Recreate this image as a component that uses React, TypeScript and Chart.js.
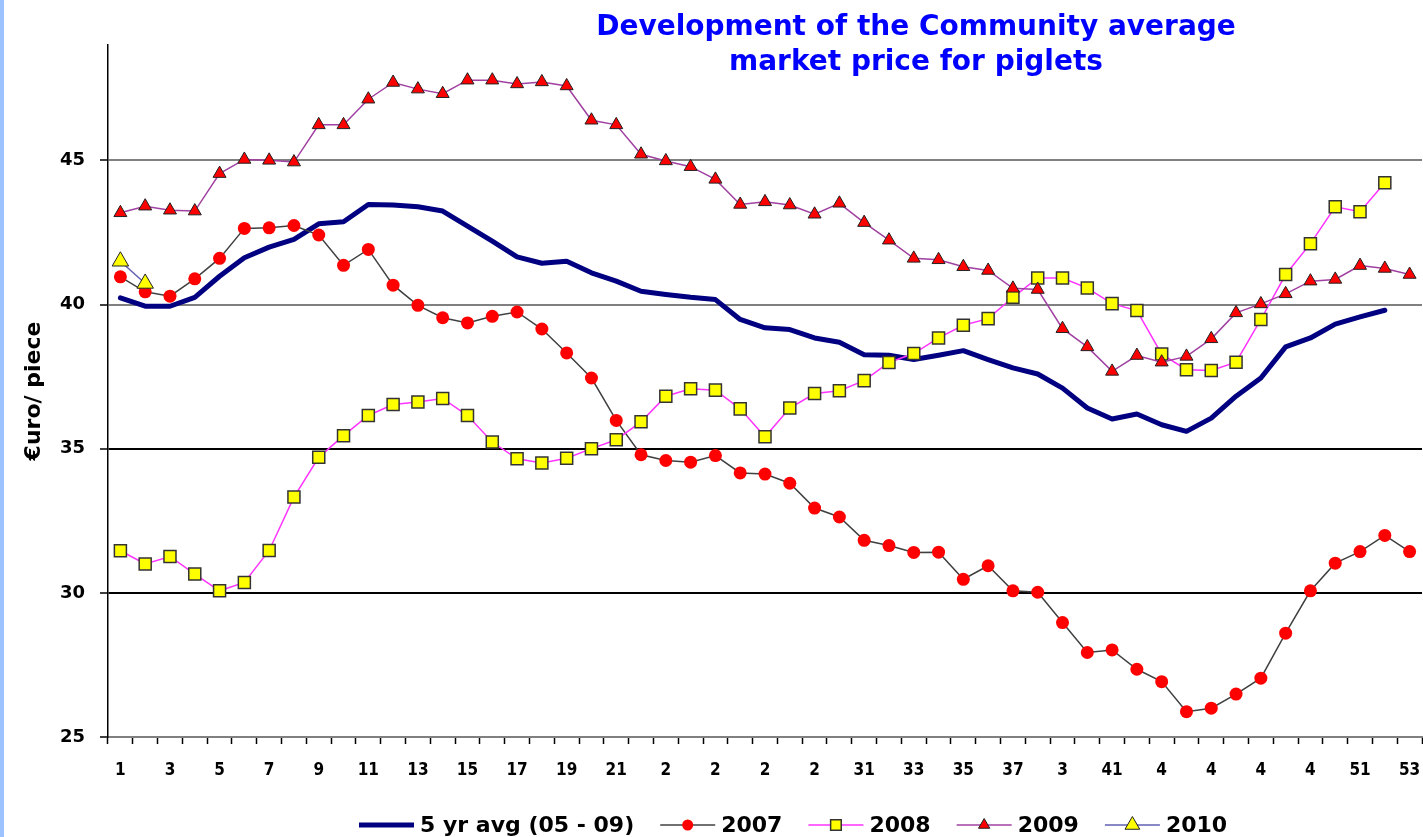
import React, { useEffect, useRef } from 'react';
import { Chart, registerables } from 'chart.js';

Chart.register(...registerables);

// ---------- data ----------
const weeks = [
  '1','2','3','4','5','6','7','8','9','10','11','12','13','14','15','16','17','18','19','20',
  '21','22','23','24','25','26','27','28','29','30','31','32','33','34','35','36','37','38','39','40',
  '41','42','43','44','45','46','47','48','49','50','51','52','53'
];

const tickLabels = [
  '1','','3','','5','','7','','9','','11','','13','','15','','17','','19','','21','',
  '2','','2','','2','','2','','31','','33','','35','','37','','3','','41','',
  '4','','4','','4','','4','','51','','53'
];

const avg5yr = [
  40.23, 39.94, 39.94, 40.25, 40.98, 41.62, 41.99, 42.26, 42.80, 42.87,
  43.47, 43.45, 43.39, 43.24, 42.72, 42.20, 41.65, 41.43, 41.50, 41.10,
  40.81, 40.46, 40.35, 40.25, 40.17, 39.48, 39.19, 39.13, 38.84, 38.69,
  38.26, 38.24, 38.09, 38.24, 38.40, 38.09, 37.80, 37.59, 37.10, 36.41,
  36.03, 36.20, 35.83, 35.60, 36.06, 36.82, 37.45, 38.53, 38.84, 39.32,
  39.57, 39.80, null
];

const y2007 = [
  40.96, 40.44, 40.29, 40.89, 41.60, 42.64, 42.66, 42.74, 42.41, 41.36,
  41.91, 40.67, 39.97, 39.54, 39.36, 39.59, 39.74, 39.15, 38.32, 37.45,
  35.98, 34.79, 34.59, 34.53, 34.76, 34.16, 34.12, 33.80, 32.94, 32.63,
  31.82, 31.64, 31.40, 31.41, 30.47, 30.94, 30.07, 30.02, 28.97, 27.93,
  28.02, 27.35, 26.92, 25.88, 26.00, 26.49, 27.04, 28.60, 30.07, 31.03,
  31.43, 31.99, 31.43
];

const y2008 = [
  31.46, 31.00, 31.26, 30.65, 30.07, 30.36, 31.47, 33.32, 34.70, 35.45,
  36.15, 36.53, 36.62, 36.74, 36.15, 35.23, 34.65, 34.50, 34.67, 35.00,
  35.31, 35.93, 36.82, 37.08, 37.03, 36.38, 35.41, 36.41, 36.91, 37.01,
  37.36, 37.99, 38.30, 38.84, 39.28, 39.51, 40.25, 40.92, 40.92, 40.57,
  40.03, 39.79, 38.28, 37.74, 37.71, 38.00, 39.48, 41.04, 42.11, 43.39,
  43.22, 44.22, null
];

const y2009 = [
  43.18, 43.41, 43.27, 43.24, 44.54, 45.03, 45.00, 44.94, 46.23, 46.23,
  47.12, 47.70, 47.47, 47.31, 47.78, 47.78, 47.65, 47.72, 47.58, 46.39,
  46.23, 45.21, 44.98, 44.78, 44.34, 43.47, 43.56, 43.45, 43.13, 43.51,
  42.84, 42.23, 41.60, 41.55, 41.31, 41.18, 40.56, 40.52, 39.16, 38.53,
  37.68, 38.23, 38.00, 38.20, 38.81, 39.71, 40.02, 40.37, 40.81, 40.87,
  41.35, 41.25, 41.04
];

const y2010 = [41.50, 40.73];

const seriesLabels = ['5 yr avg (05 - 09)', '2007', '2008', '2009', '2010'];
const titleLines = ['Development of the Community average', 'market price for piglets'];
const yAxisTitle = '€uro/ piece';
const yTickValues = [25, 30, 35, 40, 45];

// ---------- helpers ----------
function drawMarker(ctx: CanvasRenderingContext2D, style: string, x: number, y: number, r: number, fill: string, stroke: string, bw: number) {
  ctx.beginPath();
  if (style === 'circle') {
    ctx.arc(x, y, r, 0, Math.PI * 2);
  } else if (style === 'rect') {
    const s = r * Math.SQRT1_2;
    ctx.rect(x - s, y - s, 2 * s, 2 * s);
  } else if (style === 'triangle') {
    ctx.moveTo(x, y - r);
    ctx.lineTo(x + r * Math.sin(Math.PI * 2 / 3), y - r * Math.cos(Math.PI * 2 / 3));
    ctx.lineTo(x + r * Math.sin(Math.PI * 4 / 3), y - r * Math.cos(Math.PI * 4 / 3));
    ctx.closePath();
  }
  ctx.fillStyle = fill;
  ctx.fill();
  if (bw > 0) {
    ctx.lineWidth = bw;
    ctx.strokeStyle = stroke;
    ctx.stroke();
  }
}

const titlePlugin = {
  id: 'pigletTitle',
  afterDraw(chart: any) {
    const ctx = chart.ctx as CanvasRenderingContext2D;
    ctx.save();
    ctx.fillStyle = '#0000FF';
    ctx.font = 'bold 28px "DejaVu Sans", sans-serif';
    ctx.textAlign = 'center';
    ctx.textBaseline = 'alphabetic';
    titleLines.forEach((t, i) => ctx.fillText(t, 916, 35 + i * 35));
    ctx.restore();
  },
};

const legendPlugin = {
  id: 'pigletLegend',
  afterDraw(chart: any) {
    const ctx = chart.ctx as CanvasRenderingContext2D;
    const legendMarkerR = [0, 5.5, 7.5, 6.5, 8.5];
    ctx.save();
    ctx.font = 'bold 22px "DejaVu Sans", sans-serif';
    ctx.textBaseline = 'middle';
    ctx.textAlign = 'left';
    let x = 359;
    const y = 825;
    chart.data.datasets.forEach((ds: any, i: number) => {
      ctx.beginPath();
      ctx.strokeStyle = ds.borderColor;
      ctx.lineWidth = ds.borderWidth;
      ctx.lineCap = 'butt';
      ctx.moveTo(x, y);
      ctx.lineTo(x + 55, y);
      ctx.stroke();
      if (ds.pointRadius > 0) {
        drawMarker(ctx, ds.pointStyle, x + 27.5, y, legendMarkerR[i], ds.pointBackgroundColor, ds.pointBorderColor, ds.pointBorderWidth);
      }
      ctx.fillStyle = '#000000';
      ctx.fillText(ds.label, x + 61, y + 1);
      x += 61 + ctx.measureText(ds.label).width + 26;
    });
    ctx.restore();
  },
};

export default function App() {
  const canvasRef = useRef<HTMLCanvasElement | null>(null);

  useEffect(() => {
    document.body.style.margin = '0';
    const canvas = canvasRef.current;
    if (!canvas) return;

    const chart = new Chart(canvas, {
      type: 'line',
      data: {
        labels: weeks,
        datasets: [
          {
            label: seriesLabels[0],
            data: avg5yr,
            borderColor: '#000080',
            borderWidth: 5,
            pointRadius: 0,
            pointHoverRadius: 0,
            borderJoinStyle: 'round',
            borderCapStyle: 'round',
            order: 5,
          },
          {
            label: seriesLabels[1],
            data: y2007,
            borderColor: '#404040',
            borderWidth: 1.5,
            pointStyle: 'circle',
            pointRadius: 6.5,
            pointHoverRadius: 6.5,
            pointBackgroundColor: '#FF0000',
            pointBorderColor: '#FF0000',
            pointBorderWidth: 0,
            order: 4,
          },
          {
            label: seriesLabels[2],
            data: y2008,
            borderColor: '#FF33FF',
            borderWidth: 1.5,
            pointStyle: 'rect',
            pointRadius: 8.5,
            pointHoverRadius: 8.5,
            pointBackgroundColor: '#FFFF00',
            pointBorderColor: '#333333',
            pointBorderWidth: 1.5,
            order: 3,
          },
          {
            label: seriesLabels[3],
            data: y2009,
            borderColor: '#A040A0',
            borderWidth: 1.5,
            pointStyle: 'triangle',
            pointRadius: 7.5,
            pointHoverRadius: 7.5,
            pointBackgroundColor: '#FF0000',
            pointBorderColor: '#222222',
            pointBorderWidth: 1,
            order: 2,
          },
          {
            label: seriesLabels[4],
            data: y2010,
            borderColor: '#6060B0',
            borderWidth: 1.5,
            pointStyle: 'triangle',
            pointRadius: 9.5,
            pointHoverRadius: 9.5,
            pointBackgroundColor: '#FFFF00',
            pointBorderColor: '#222222',
            pointBorderWidth: 1,
            order: 1,
          },
        ],
      },
      options: {
        animation: false,
        responsive: true,
        maintainAspectRatio: false,
        events: [],
        layout: { autoPadding: false, padding: { left: 8, right: 1, top: 45, bottom: 0 } },
        plugins: {
          legend: { display: false },
          title: { display: false },
          tooltip: { enabled: false },
        },
        elements: { line: { tension: 0 } },
        scales: {
          x: {
            type: 'category',
            offset: true,
            grid: {
              offset: true,
              drawOnChartArea: false,
              drawTicks: true,
              tickLength: 7,
              tickColor: '#000000',
              tickWidth: 1.5,
            },
            border: { display: true, color: '#808080', width: 2 },
            ticks: {
              autoSkip: false,
              maxRotation: 0,
              minRotation: 0,
              padding: 16,
              color: '#000000',
              font: { family: '"DejaVu Sans Condensed", "DejaVu Sans", sans-serif', size: 17, weight: 'bold' },
              callback: (_v: any, i: number) => tickLabels[i],
            },
            afterFit: (scale: any) => {
              scale.height = 100;
              scale.paddingLeft = 0;
              scale.paddingRight = 0;
            },
          },
          y: {
            min: 25,
            max: 49,
            afterBuildTicks: (scale: any) => {
              scale.ticks = yTickValues.map((v) => ({ value: v }));
            },
            grid: {
              color: (c: any) => {
                const v = c.tick ? c.tick.value : 0;
                return v === 30 || v === 35 ? '#000000' : '#808080';
              },
              lineWidth: 2,
              tickLength: 8,
              tickColor: '#000000',
              tickWidth: 1.5,
            },
            border: { display: true, color: '#000000', width: 1.5 },
            ticks: {
              padding: 15,
              color: '#000000',
              font: { family: '"DejaVu Sans", sans-serif', size: 18, weight: 'bold' },
            },
            title: {
              display: true,
              text: yAxisTitle,
              color: '#000000',
              font: { family: '"DejaVu Sans", sans-serif', size: 22, weight: 'bold' },
              padding: { top: 13, bottom: 0 },
            },
            afterFit: (scale: any) => {
              scale.width = 100;
              scale.paddingTop = 0;
              scale.paddingBottom = 0;
            },
          },
        },
      },
      plugins: [titlePlugin, legendPlugin],
    } as any);

    return () => chart.destroy();
  }, []);

  return (
    <div style={{ position: 'relative', width: 1423, height: 837, background: '#ffffff' }}>
      <div style={{ position: 'absolute', left: 0, top: 0, width: 4, height: 837, background: '#9DC3FF' }} />
      <div style={{ position: 'absolute', left: 0, top: 0, width: 1423, height: 837 }}>
        <canvas ref={canvasRef} />
      </div>
    </div>
  );
}
